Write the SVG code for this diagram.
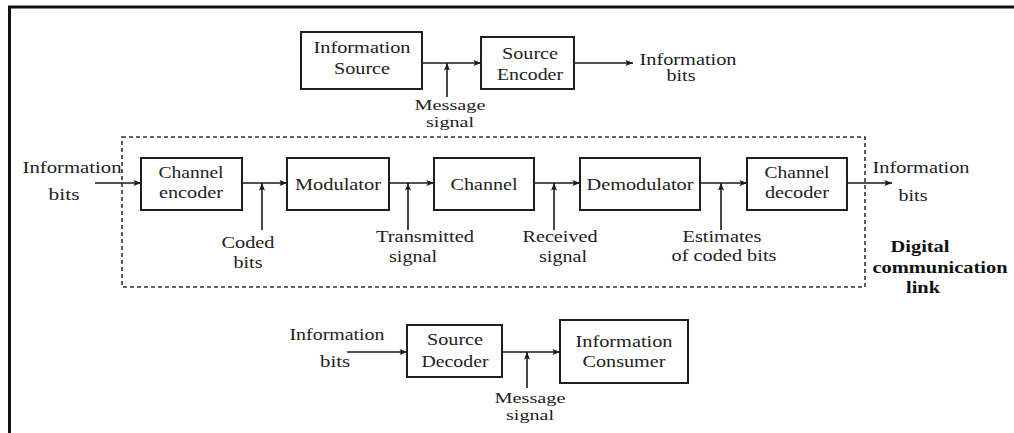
<svg xmlns="http://www.w3.org/2000/svg" width="1014" height="433" viewBox="0 0 1014 433">
<defs>
<marker id="ah" viewBox="0 0 10 8" refX="10" refY="4" markerWidth="9" markerHeight="6" markerUnits="userSpaceOnUse" orient="auto">
<path d="M0,0 L10,4 L0,8 L2,4 Z" fill="#1a1a1a"/>
</marker>
<style>
.box{fill:#fff;stroke:#1f1f1f;stroke-width:2}
.ln{fill:none;stroke:#1a1a1a;stroke-width:1.6;marker-end:url(#ah)}
.t{font-family:"Liberation Serif","Times New Roman",serif;font-size:16px;fill:#222;text-anchor:middle}
.s{font-size:15px}
.b{font-family:"Liberation Serif","Times New Roman",serif;font-size:16px;font-weight:bold;fill:#111;text-anchor:middle}
.frame{fill:none;stroke:#111;stroke-width:3}
.dot{fill:none;stroke:#333;stroke-width:1.6;stroke-dasharray:4 3}
</style>
</defs>
<rect width="1014" height="433" fill="#fff"/>
<path class="frame" d="M9.5,433 V7 H1014"/>
<rect id="link-boundary" class="dot" x="122" y="137" width="743" height="150"/>

<g id="info-source"><rect class="box" x="301" y="32" width="121" height="57"/>
<text class="t" x="362" y="53" textLength="97" lengthAdjust="spacingAndGlyphs">Information</text>
<text class="t" x="362" y="74" textLength="56" lengthAdjust="spacingAndGlyphs">Source</text></g>

<g id="source-encoder"><rect class="box" x="481" y="37" width="93" height="52"/>
<text class="t" x="530" y="59" textLength="56" lengthAdjust="spacingAndGlyphs">Source</text>
<text class="t" x="530" y="80" textLength="66" lengthAdjust="spacingAndGlyphs">Encoder</text></g>

<g id="channel-encoder"><rect class="box" x="141" y="158" width="101" height="52"/>
<text class="t" x="191" y="178" textLength="65" lengthAdjust="spacingAndGlyphs">Channel</text>
<text class="t" x="191" y="198" textLength="64" lengthAdjust="spacingAndGlyphs">encoder</text></g>

<g id="modulator"><rect class="box" x="287" y="158" width="102" height="52"/>
<text class="t" x="338" y="190" textLength="86" lengthAdjust="spacingAndGlyphs">Modulator</text></g>

<g id="channel"><rect class="box" x="434" y="158" width="100" height="52"/>
<text class="t" x="484" y="190" textLength="67" lengthAdjust="spacingAndGlyphs">Channel</text></g>

<g id="demodulator"><rect class="box" x="580" y="158" width="120" height="52"/>
<text class="t" x="640" y="190" textLength="107" lengthAdjust="spacingAndGlyphs">Demodulator</text></g>

<g id="channel-decoder"><rect class="box" x="747" y="158" width="100" height="52"/>
<text class="t" x="797" y="178" textLength="65" lengthAdjust="spacingAndGlyphs">Channel</text>
<text class="t" x="797" y="198" textLength="64" lengthAdjust="spacingAndGlyphs">decoder</text></g>

<g id="source-decoder"><rect class="box" x="407" y="325" width="95" height="52"/>
<text class="t" x="455" y="345" textLength="56" lengthAdjust="spacingAndGlyphs">Source</text>
<text class="t" x="455" y="367" textLength="67" lengthAdjust="spacingAndGlyphs">Decoder</text></g>

<g id="info-consumer"><rect class="box" x="560" y="320" width="128" height="63"/>
<text class="t" x="624" y="347" textLength="97" lengthAdjust="spacingAndGlyphs">Information</text>
<text class="t" x="624" y="367" textLength="83" lengthAdjust="spacingAndGlyphs">Consumer</text></g>

<g id="connectors">
<path class="ln" d="M422,63 H481"/>
<path class="ln" d="M447,97 V63"/>
<path class="ln" d="M574,63 H633"/>
<path class="ln" d="M95,183 H141"/>
<path class="ln" d="M242,183 H287"/>
<path class="ln" d="M262,230 V183"/>
<path class="ln" d="M389,183 H434"/>
<path class="ln" d="M408,230 V183"/>
<path class="ln" d="M534,183 H580"/>
<path class="ln" d="M554,230 V183"/>
<path class="ln" d="M700,183 H747"/>
<path class="ln" d="M721,230 V183"/>
<path class="ln" d="M847,183 H892"/>
<path class="ln" d="M347,352 H407"/>
<path class="ln" d="M502,352 H560"/>
<path class="ln" d="M527,388 V352"/>
</g>

<g id="labels">
<text class="t s" x="450" y="110" textLength="71" lengthAdjust="spacingAndGlyphs">Message</text>
<text class="t s" x="450" y="127" textLength="48" lengthAdjust="spacingAndGlyphs">signal</text>
<text class="t" x="688" y="65" textLength="97" lengthAdjust="spacingAndGlyphs">Information</text>
<text class="t" x="681" y="81" textLength="29" lengthAdjust="spacingAndGlyphs">bits</text>
<text class="t" x="72" y="173" textLength="99" lengthAdjust="spacingAndGlyphs">Information</text>
<text class="t" x="64" y="200" textLength="31" lengthAdjust="spacingAndGlyphs">bits</text>
<text class="t" x="248" y="248" textLength="53" lengthAdjust="spacingAndGlyphs">Coded</text>
<text class="t" x="248" y="268" textLength="29" lengthAdjust="spacingAndGlyphs">bits</text>
<text class="t" x="425" y="242" textLength="98" lengthAdjust="spacingAndGlyphs">Transmitted</text>
<text class="t" x="413" y="262" textLength="48" lengthAdjust="spacingAndGlyphs">signal</text>
<text class="t" x="560" y="242" textLength="75" lengthAdjust="spacingAndGlyphs">Received</text>
<text class="t" x="563" y="262" textLength="48" lengthAdjust="spacingAndGlyphs">signal</text>
<text class="t" x="722" y="242" textLength="79" lengthAdjust="spacingAndGlyphs">Estimates</text>
<text class="t" x="724" y="261" textLength="105" lengthAdjust="spacingAndGlyphs">of coded bits</text>
<text class="t" x="921" y="173" textLength="97" lengthAdjust="spacingAndGlyphs">Information</text>
<text class="t" x="913" y="201" textLength="29" lengthAdjust="spacingAndGlyphs">bits</text>
<text class="b" x="920" y="252" textLength="59" lengthAdjust="spacingAndGlyphs">Digital</text>
<text class="b" x="940" y="273" textLength="135" lengthAdjust="spacingAndGlyphs">communication</text>
<text class="b" x="923" y="293" textLength="34" lengthAdjust="spacingAndGlyphs">link</text>
<text class="t" x="337" y="340" textLength="95" lengthAdjust="spacingAndGlyphs">Information</text>
<text class="t" x="335" y="367" textLength="30" lengthAdjust="spacingAndGlyphs">bits</text>
<text class="t s" x="530" y="403" textLength="71" lengthAdjust="spacingAndGlyphs">Message</text>
<text class="t s" x="530" y="420" textLength="48" lengthAdjust="spacingAndGlyphs">signal</text>
</g>
</svg>
